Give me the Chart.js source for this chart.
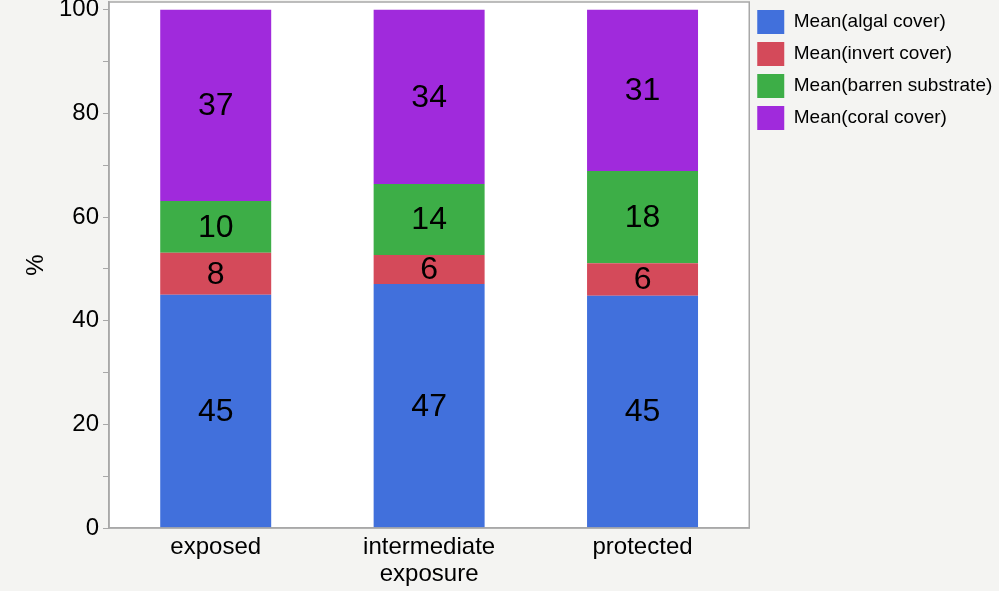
<!DOCTYPE html>
<html>
<head>
<meta charset="utf-8">
<script src="https://cdn.jsdelivr.net/npm/chart.js@4"></script>
<style>
  html, body { margin: 0; padding: 0; background: #f4f4f2; }
  #wrap { width: 999px; height: 591px; }
</style>
</head>
<body>
<div id="wrap"><canvas id="coverChart" width="999" height="591"></canvas></div>
<script>
const sites = [['exposed'], ['intermediate', 'exposure'], ['protected']];
const algalCover = [45.0, 47.1, 44.8];
const invertCover = [8.1, 5.6, 6.3];
const barrenSubstrate = [10.0, 13.7, 17.8];
const coralCover = [36.9, 33.6, 31.1];
const yTicks = [0, 10, 20, 30, 40, 50, 60, 70, 80, 90, 100];

const fontFamily = '"Liberation Sans", Arial, Helvetica, sans-serif';

// white plot area + grey frame, like the JMP output
const frame = {
  id: 'frame',
  beforeDraw(chart) {
    const { ctx, chartArea: a } = chart;
    ctx.save();
    ctx.fillStyle = '#f4f4f2';
    ctx.fillRect(0, 0, chart.width, chart.height);
    ctx.fillStyle = '#ffffff';
    ctx.fillRect(a.left, a.top, a.right - a.left, a.bottom - a.top);
    ctx.restore();
  },
  afterDraw(chart) {
    const { ctx, chartArea: a } = chart;
    ctx.save();
    ctx.strokeStyle = '#a8a8a8';
    ctx.lineWidth = 1.5;
    ctx.strokeRect(a.left, a.top, a.right - a.left, a.bottom - a.top);
    ctx.restore();
  }
};

// segment values in the middle of each bar piece
const segLabels = {
  id: 'segLabels',
  afterDatasetsDraw(chart) {
    const { ctx } = chart;
    ctx.save();
    ctx.fillStyle = '#000';
    ctx.font = '32px ' + fontFamily;
    ctx.textAlign = 'center';
    ctx.textBaseline = 'middle';
    chart.data.datasets.forEach((ds, i) => {
      chart.getDatasetMeta(i).data.forEach((bar, j) => {
        const mid = (bar.y + bar.base) / 2;
        ctx.fillText(Math.round(ds.data[j]), bar.x, mid + 1);
      });
    });
    ctx.restore();
  }
};

const coverChart = new Chart(document.getElementById('coverChart').getContext('2d'), {
  type: 'bar',
  data: {
    labels: sites,
    datasets: [
      { label: 'Mean(algal cover)', data: algalCover, backgroundColor: '#4170dc' },
      { label: 'Mean(invert cover)', data: invertCover, backgroundColor: '#d44a5a' },
      { label: 'Mean(barren substrate)', data: barrenSubstrate, backgroundColor: '#3dae47' },
      { label: 'Mean(coral cover)', data: coralCover, backgroundColor: '#a02adc' }
    ]
  },
  options: {
    responsive: false,
    animation: false,
    layout: { padding: { top: 2, right: 0, left: 0, bottom: 0 } },
    datasets: { bar: { categoryPercentage: 1, barPercentage: 0.52 } },
    scales: {
      x: {
        stacked: true,
        grid: { display: false },
        border: { color: '#a8a8a8', width: 1.5 },
        ticks: {
          color: '#000',
          font: { family: fontFamily, size: 24, lineHeight: 1.12 },
          padding: -2,
          maxRotation: 0
        },
        afterFit(s) { s.height = 63; s.paddingLeft = 0; s.paddingRight = 0; }
      },
      y: {
        stacked: true,
        min: 0,
        max: 101.5,
        afterBuildTicks(s) { s.ticks = yTicks.map(v => ({ value: v })); },
        grid: {
          drawOnChartArea: false,
          tickLength: 6,
          tickColor: '#a8a8a8'
        },
        border: { color: '#a8a8a8', width: 1.5 },
        ticks: {
          color: '#000',
          font: { family: fontFamily, size: 24 },
          padding: 4,
          callback: v => (v % 20 === 0 ? v : '')
        },
        title: {
          display: true,
          text: '%',
          color: '#000',
          font: { family: fontFamily, size: 24 },
          padding: { top: 22, bottom: 0 }
        },
        afterFit(s) { s.width = 109; s.paddingTop = 0; s.paddingBottom = 0; }
      }
    },
    plugins: {
      legend: {
        position: 'right',
        align: 'start',
        labels: {
          boxWidth: 27,
          boxHeight: 24,
          padding: 8,
          color: '#000',
          font: { family: fontFamily, size: 19 }
        }
      },
      tooltip: { enabled: false }
    }
  },
  plugins: [frame, segLabels]
});
</script>
</body>
</html>
